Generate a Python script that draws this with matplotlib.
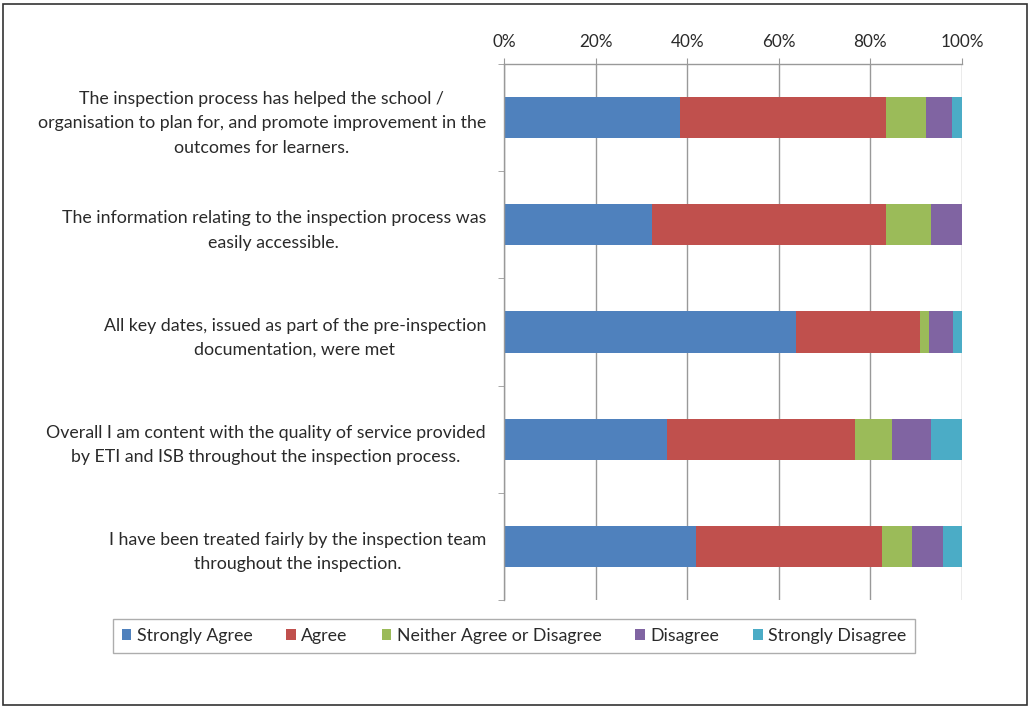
import matplotlib
matplotlib.use("Agg")
import matplotlib.pyplot as plt
from matplotlib.patches import Rectangle
import numpy as np

plt.rcParams['font.family'] = ['Lato', 'DejaVu Sans']

categories = [
    "The inspection process has helped the school /\norganisation to plan for, and promote improvement in the\noutcomes for learners.",
    "The information relating to the inspection process was\neasily accessible.",
    "All key dates, issued as part of the pre-inspection\ndocumentation, were met",
    "Overall I am content with the quality of service provided\nby ETI and ISB throughout the inspection process.",
    "I have been treated fairly by the inspection team\nthroughout the inspection.",
]
series_names = ["Strongly Agree", "Agree", "Neither Agree or Disagree", "Disagree", "Strongly Disagree"]
strongly_agree = [38.4, 32.4, 63.8, 35.5, 41.9]
agree = [45.0, 51.0, 27.0, 41.1, 40.7]
neither = [8.7, 9.8, 2.1, 8.1, 6.4]
disagree = [5.8, 6.8, 5.2, 8.5, 6.8]
strongly_disagree = [2.1, 0.0, 1.9, 6.8, 4.2]
xtick_labels = ["0%", "20%", "40%", "60%", "80%", "100%"]

colors = ["#4F81BD", "#C0504D", "#9BBB59", "#8064A2", "#4BACC6"]

fig = plt.figure(figsize=(10.31, 7.09), dpi=100)
ax = fig.add_axes([504/1031, 1-600/709, 458/1031, 536/709])

data = [strongly_agree, agree, neither, disagree, strongly_disagree]
y = np.arange(len(categories))
left = np.zeros(len(categories))
for vals, name, c in zip(data, series_names, colors):
    v = np.array(vals, dtype=float)
    ax.barh(y, v, left=left, height=0.385, color=c, label=name, edgecolor='none')
    left += v

ax.set_xlim(0, 100)
ax.set_ylim(4.5, -0.5)
ax.xaxis.tick_top()
ax.set_xticks([0, 20, 40, 60, 80, 100])
ax.set_xticklabels(xtick_labels, fontsize=12.3, color='#2a2a2a')
ax.tick_params(axis='x', which='major', length=4, color='#999999', pad=6)
ax.grid(axis='x', color='#999999', linewidth=1.0)
ax.set_axisbelow(True)

ax.set_yticks(y)
ax.set_yticklabels(categories, fontsize=12.8, color='#2a2a2a')
for lbl in ax.get_yticklabels():
    lbl.set_multialignment('center')
    lbl.set_linespacing(1.65)
ax.tick_params(axis='y', which='major', length=0, pad=13)
ax.set_yticks(np.arange(-0.5, 5.0, 1.0), minor=True)
ax.tick_params(axis='y', which='minor', length=4, color='#999999')

for s in ['right', 'bottom']:
    ax.spines[s].set_visible(False)
for s in ['top', 'left']:
    ax.spines[s].set_color('#999999')
    ax.spines[s].set_linewidth(1.0)

handles, labels = ax.get_legend_handles_labels()
leg = fig.legend(handles, labels, loc='center', bbox_to_anchor=(514/1031, 1-636/709),
                 ncol=5, fontsize=12.8, frameon=True, fancybox=False,
                 handlelength=0.55, handleheight=0.55, handletextpad=0.3,
                 columnspacing=1.9, borderpad=0.5)
leg.get_frame().set_edgecolor('#999999')
leg.get_frame().set_linewidth(1.0)
for t in leg.get_texts():
    t.set_color('#2a2a2a')

fig.patches.append(Rectangle((3/1031, 4/709), 1024/1031, 701/709, transform=fig.transFigure,
                             fill=False, edgecolor='#333333', linewidth=1.2))

fig.savefig("out.png", dpi=100)
